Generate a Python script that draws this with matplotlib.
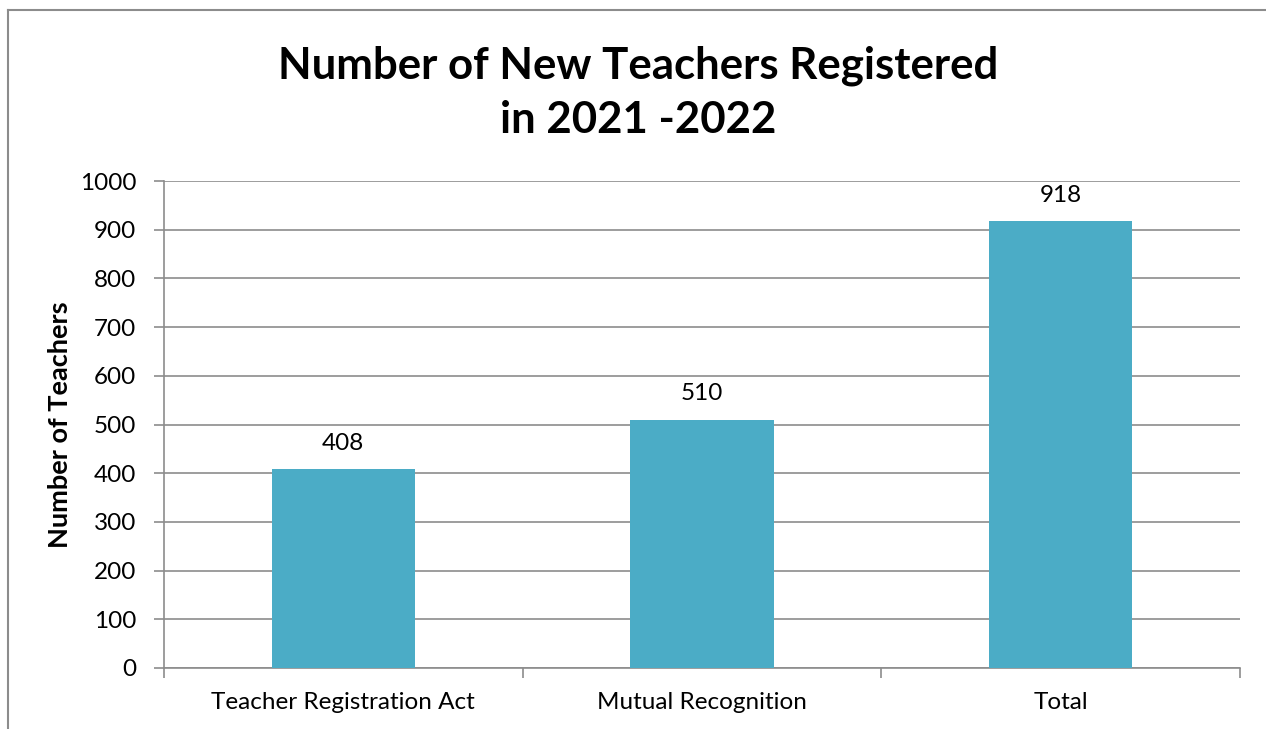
import matplotlib
matplotlib.use("Agg")
import matplotlib.pyplot as plt
from matplotlib.lines import Line2D

categories = ["Teacher Registration Act", "Mutual Recognition", "Total"]
values = [408, 510, 918]
yticks = [0, 100, 200, 300, 400, 500, 600, 700, 800, 900, 1000]

plt.rcParams['font.family'] = ['Lato', 'DejaVu Sans']

W, H = 1266, 729
fig = plt.figure(figsize=(W / 100, H / 100), dpi=100)
ax = fig.add_axes([164 / W, 1 - 668 / H, (1240 - 164) / W, (668 - 181) / H])

grid_c = "#8c8c8c"
fs = 17.5
ax.bar(range(len(categories)), values, width=0.4, color="#4BACC6", zorder=3)
ax.set_xlim(-0.5, len(categories) - 0.5)
ax.set_ylim(0, 1000)
ax.set_yticks(yticks)
ax.set_yticklabels([str(t) for t in yticks], fontsize=fs)
ax.yaxis.grid(True, color=grid_c, linewidth=1.2, zorder=0)
ax.set_xticks(range(len(categories)))
ax.set_xticklabels(categories, fontsize=fs)
ax.tick_params(axis='x', length=0, pad=17)
ax.set_xticks([i - 0.5 for i in range(len(categories) + 1)], minor=True)
ax.tick_params(axis='x', which='minor', length=7, color=grid_c, width=1.2)
ax.tick_params(axis='y', length=7, color=grid_c, width=1.2, pad=13)
for s in ['top', 'right']:
    ax.spines[s].set_visible(False)
for s in ['left', 'bottom']:
    ax.spines[s].set_color(grid_c)
    ax.spines[s].set_linewidth(1.2)

for i, v in enumerate(values):
    ax.annotate(str(v), (i, v), xytext=(0, 11), textcoords='offset points',
                ha='center', va='bottom', fontsize=fs)

ax.set_ylabel("Number of Teachers", fontsize=19.5, fontweight='bold')
ax.yaxis.set_label_coords(-0.0855, 0.5)
fig.text(638 / W, 1 - 93 / H, "Number of New Teachers Registered\nin 2021 -2022",
         ha='center', va='center', fontsize=31.5, fontweight='bold', linespacing=1.42)

# figure border (left and top visible)
fig.add_artist(Line2D([8 / W, 8 / W], [0, 1 - 10 / H], transform=fig.transFigure,
                      color="#8c8c8c", linewidth=1.5))
fig.add_artist(Line2D([8 / W, 1], [1 - 10 / H, 1 - 10 / H], transform=fig.transFigure,
                      color="#8c8c8c", linewidth=1.5))

fig.savefig("out.png", dpi=100)
